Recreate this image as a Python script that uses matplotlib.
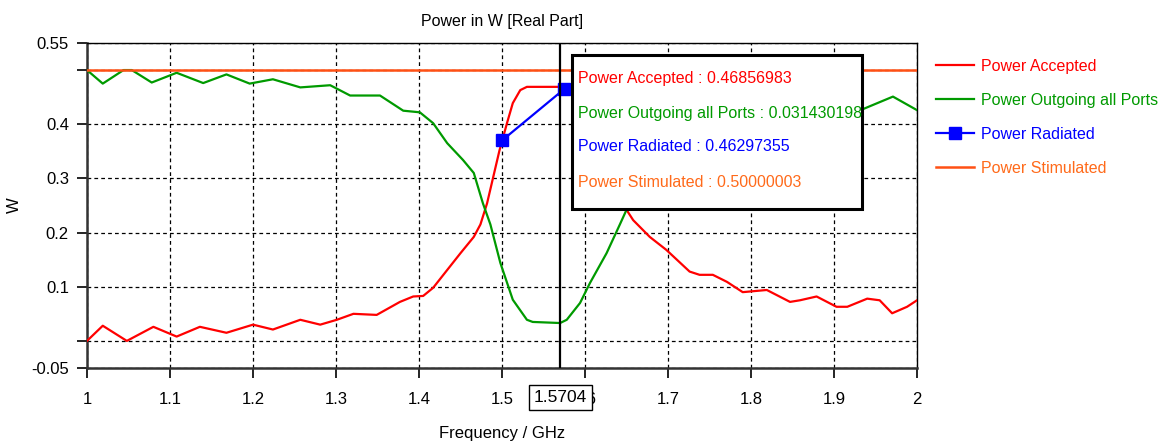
import matplotlib
matplotlib.use("Agg")
import matplotlib.pyplot as plt
from matplotlib.patches import Rectangle

plt.rcParams['font.family'] = ['Liberation Sans', 'DejaVu Sans']

# --- data ---
acc_f = [1.0, 1.019, 1.048, 1.08, 1.108, 1.136, 1.168, 1.2, 1.224, 1.257,
         1.281, 1.301, 1.321, 1.349, 1.377, 1.393, 1.405, 1.417, 1.434, 1.45,
         1.466, 1.474, 1.482, 1.497, 1.506, 1.513, 1.522, 1.53, 1.59, 1.61,
         1.63, 1.65, 1.658, 1.678, 1.698, 1.726, 1.738, 1.754, 1.771, 1.79,
         1.819, 1.847, 1.859, 1.879, 1.903, 1.916, 1.94, 1.955, 1.97, 1.988, 2.0]
acc_p = [0.0, 0.028, 0.0, 0.026, 0.008, 0.026, 0.015, 0.03, 0.021, 0.039,
         0.03, 0.039, 0.05, 0.048, 0.072, 0.082, 0.083, 0.098, 0.131, 0.162,
         0.192, 0.215, 0.254, 0.352, 0.402, 0.439, 0.463, 0.469, 0.469, 0.40,
         0.30, 0.242, 0.223, 0.192, 0.168, 0.128, 0.122, 0.122, 0.109, 0.09,
         0.094, 0.072, 0.075, 0.082, 0.063, 0.063, 0.078, 0.075, 0.051, 0.063, 0.075]

out_f = [1.0, 1.019, 1.044, 1.054, 1.078, 1.108, 1.14, 1.168, 1.196, 1.224,
         1.257, 1.293, 1.317, 1.353, 1.381, 1.401, 1.417, 1.434, 1.453, 1.466,
         1.477, 1.486, 1.498, 1.513, 1.53, 1.537, 1.57, 1.578, 1.594, 1.606,
         1.626, 1.642, 1.65, 1.68, 1.72, 1.78, 1.84, 1.9, 1.935, 1.971, 2.0]
out_p = [0.5, 0.475, 0.5, 0.5, 0.477, 0.495, 0.476, 0.492, 0.475, 0.483,
         0.468, 0.472, 0.453, 0.453, 0.425, 0.422, 0.402, 0.365, 0.334, 0.31,
         0.254, 0.215, 0.144, 0.076, 0.039, 0.035, 0.033, 0.039, 0.07, 0.107,
         0.162, 0.215, 0.242, 0.30, 0.35, 0.39, 0.41, 0.42, 0.428, 0.451, 0.426]

rad_f = [1.5, 1.575]
rad_p = [0.37, 0.465]

stim_f = [1.0, 2.0]
stim_p = [0.5, 0.5]

cursor_f = 1.5704
cursor_label = "1.5704"
readout = ["Power Accepted : 0.46856983",
           "Power Outgoing all Ports : 0.031430198",
           "Power Radiated : 0.46297355",
           "Power Stimulated : 0.50000003"]

xticks = [1.0, 1.1, 1.2, 1.3, 1.4, 1.5, 1.6, 1.7, 1.8, 1.9, 2.0]
xlabels = ['1', '1.1', '1.2', '1.3', '1.4', '1.5', '1.6', '1.7', '1.8', '1.9', '2']
yticks = [-0.05, 0.0, 0.1, 0.2, 0.3, 0.4, 0.5, 0.55]
ylabels = ['-0.05', '', '0.1', '0.2', '0.3', '0.4', '', '0.55']

RED = '#ff0000'
GREEN = '#009a00'
BLUE = '#0000ff'
ORANGE = '#ff5014'
ORANGE_TXT = '#ff6a1a'
colors = [RED, GREEN, BLUE, ORANGE_TXT]

fig = plt.figure(figsize=(11.63, 4.44), dpi=100)
ax = fig.add_axes([0.0748, 0.1712, 0.7137, 0.732])

ax.plot(acc_f, acc_p, color=RED, lw=1.6, label='Power Accepted', zorder=3)
ax.plot(out_f, out_p, color=GREEN, lw=1.6, label='Power Outgoing all Ports', zorder=3)
ax.plot(rad_f, rad_p, color=BLUE, lw=1.6, marker='s', markersize=8,
        label='Power Radiated', zorder=4)
ax.plot(stim_f, stim_p, color=ORANGE, lw=1.8, label='Power Stimulated', zorder=3)

ax.set_xlim(1.0, 2.0)
ax.set_ylim(-0.05, 0.55)
ax.set_xticks(xticks)
ax.set_xticklabels(xlabels)
ax.set_yticks(yticks)
ax.set_yticklabels(ylabels)
ax.tick_params(labelsize=12, length=7, width=1.2, direction='out', pad=6)
ax.tick_params(axis='x', pad=10)
ax.grid(True, color='black', linestyle=(0, (3, 2.5)), linewidth=0.9)

for s in ['left', 'bottom']:
    ax.spines[s].set_linewidth(1.8)
    ax.spines[s].set_color('#333333')
for s in ['top', 'right']:
    ax.spines[s].set_linewidth(1.0)

ax.set_title('Power in W [Real Part]', fontsize=11.5, pad=12)
ax.set_xlabel('Frequency / GHz', fontsize=12, labelpad=14)
ax.set_ylabel('W', fontsize=12)
ax.yaxis.set_label_coords(-0.078, 0.5)

# cursor
ax.axvline(cursor_f, color='black', lw=1.6, zorder=5)
ax.text(cursor_f, -0.09, cursor_label, transform=ax.get_xaxis_transform(),
        ha='center', va='center', fontsize=12.5, zorder=6,
        bbox=dict(boxstyle='square,pad=0.3', fc='white', ec='black', lw=1.0))

# readout box
ax.add_patch(Rectangle((0.584, 0.489), 0.35, 0.474, transform=ax.transAxes,
                       facecolor='white', edgecolor='black', lw=2.2, zorder=7))
ys = [0.892, 0.782, 0.68, 0.572]
for txt, c, yy in zip(readout, colors, ys):
    ax.text(0.592, yy, txt, color=c, transform=ax.transAxes, fontsize=11.5,
            va='center', ha='left', zorder=8)

leg = ax.legend(loc='upper left', bbox_to_anchor=(1.019, 0.962), frameon=False,
                fontsize=11.5, handlelength=2.4, labelspacing=1.2,
                handletextpad=0.4, borderpad=0.2, borderaxespad=0)
for t, c in zip(leg.get_texts(), colors):
    t.set_color(c)

fig.savefig('out.png', dpi=100)
